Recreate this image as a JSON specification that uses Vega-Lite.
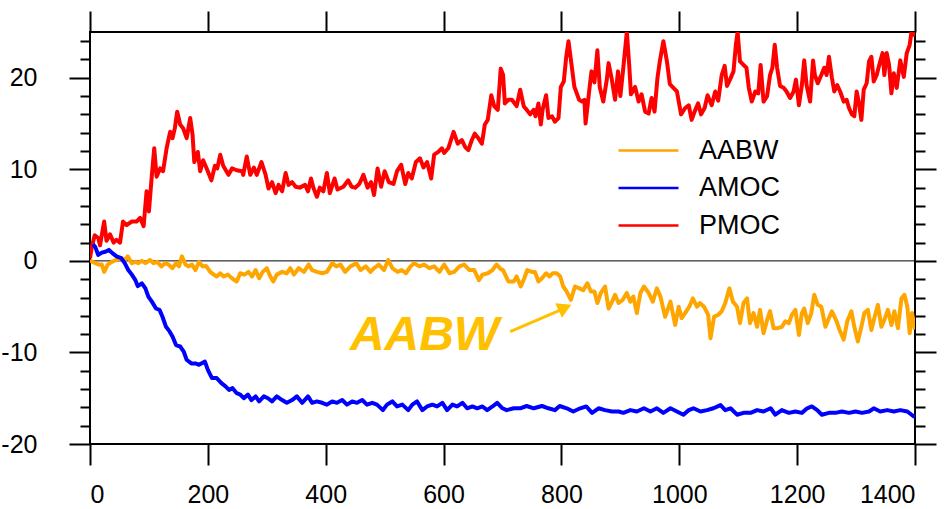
{
  "$schema": "https://vega.github.io/schema/vega-lite/v6.json",
  "autosize": "none",
  "width": 825,
  "height": 412,
  "padding": {"left": 90, "top": 32, "right": 32, "bottom": 65},
  "background": "white",
  "config": {
    "font": "Liberation Sans",
    "view": {"stroke": "black", "strokeWidth": 2},
    "axis": {"grid": false, "domain": false, "tickColor": "black", "tickWidth": 2, "labelColor": "black", "labelFont": "Liberation Sans", "labelFontSize": 25, "title": null}
  },
  "datasets": {
    "moc": [
      {"year":0,"series":"PMOC","value":0.3},{"year":3,"series":"PMOC","value":1.5},{"year":8,"series":"PMOC","value":2.8},{"year":14,"series":"PMOC","value":2.5},{"year":17,"series":"PMOC","value":1.7},{"year":24,"series":"PMOC","value":4.3},{"year":28,"series":"PMOC","value":2.2},{"year":34,"series":"PMOC","value":2.9},{"year":40,"series":"PMOC","value":2.0},{"year":45,"series":"PMOC","value":2.3},{"year":51,"series":"PMOC","value":2.0},{"year":56,"series":"PMOC","value":4.3},{"year":62,"series":"PMOC","value":3.9},{"year":71,"series":"PMOC","value":4.3},{"year":79,"series":"PMOC","value":4.3},{"year":85,"series":"PMOC","value":4.7},{"year":91,"series":"PMOC","value":3.8},{"year":96,"series":"PMOC","value":7.6},{"year":100,"series":"PMOC","value":5.4},{"year":105,"series":"PMOC","value":9.4},{"year":109,"series":"PMOC","value":12.3},{"year":113,"series":"PMOC","value":9.2},{"year":119,"series":"PMOC","value":10.1},{"year":124,"series":"PMOC","value":9.8},{"year":130,"series":"PMOC","value":12.3},{"year":136,"series":"PMOC","value":14.1},{"year":140,"series":"PMOC","value":13.4},{"year":144,"series":"PMOC","value":14.5},{"year":148,"series":"PMOC","value":16.3},{"year":153,"series":"PMOC","value":14.9},{"year":158,"series":"PMOC","value":14.5},{"year":164,"series":"PMOC","value":13.4},{"year":170,"series":"PMOC","value":15.6},{"year":174,"series":"PMOC","value":13.8},{"year":177,"series":"PMOC","value":10.8},{"year":183,"series":"PMOC","value":11.9},{"year":187,"series":"PMOC","value":9.8},{"year":192,"series":"PMOC","value":11.0},{"year":198,"series":"PMOC","value":10.1},{"year":206,"series":"PMOC","value":8.8},{"year":212,"series":"PMOC","value":10.4},{"year":216,"series":"PMOC","value":10.1},{"year":221,"series":"PMOC","value":11.6},{"year":226,"series":"PMOC","value":10.4},{"year":235,"series":"PMOC","value":9.4},{"year":241,"series":"PMOC","value":10.1},{"year":249,"series":"PMOC","value":9.9},{"year":258,"series":"PMOC","value":9.8},{"year":260,"series":"PMOC","value":9.4},{"year":266,"series":"PMOC","value":11.4},{"year":272,"series":"PMOC","value":9.4},{"year":278,"series":"PMOC","value":10.2},{"year":283,"series":"PMOC","value":9.4},{"year":291,"series":"PMOC","value":10.8},{"year":298,"series":"PMOC","value":9.4},{"year":303,"series":"PMOC","value":7.9},{"year":309,"series":"PMOC","value":8.6},{"year":315,"series":"PMOC","value":7.4},{"year":320,"series":"PMOC","value":8.3},{"year":326,"series":"PMOC","value":7.6},{"year":332,"series":"PMOC","value":9.6},{"year":337,"series":"PMOC","value":8.3},{"year":343,"series":"PMOC","value":8.6},{"year":349,"series":"PMOC","value":8.1},{"year":356,"series":"PMOC","value":8.0},{"year":365,"series":"PMOC","value":8.3},{"year":370,"series":"PMOC","value":7.6},{"year":375,"series":"PMOC","value":9.0},{"year":379,"series":"PMOC","value":8.0},{"year":385,"series":"PMOC","value":7.0},{"year":390,"series":"PMOC","value":8.0},{"year":396,"series":"PMOC","value":7.6},{"year":402,"series":"PMOC","value":9.6},{"year":407,"series":"PMOC","value":7.4},{"year":415,"series":"PMOC","value":9.0},{"year":420,"series":"PMOC","value":7.8},{"year":430,"series":"PMOC","value":8.1},{"year":438,"series":"PMOC","value":8.8},{"year":444,"series":"PMOC","value":8.1},{"year":450,"series":"PMOC","value":8.0},{"year":457,"series":"PMOC","value":8.4},{"year":464,"series":"PMOC","value":9.4},{"year":471,"series":"PMOC","value":8.0},{"year":477,"series":"PMOC","value":8.6},{"year":482,"series":"PMOC","value":7.2},{"year":488,"series":"PMOC","value":10.1},{"year":494,"series":"PMOC","value":8.1},{"year":500,"series":"PMOC","value":9.8},{"year":507,"series":"PMOC","value":8.6},{"year":515,"series":"PMOC","value":8.4},{"year":521,"series":"PMOC","value":9.8},{"year":528,"series":"PMOC","value":10.5},{"year":535,"series":"PMOC","value":8.4},{"year":540,"series":"PMOC","value":9.6},{"year":546,"series":"PMOC","value":9.0},{"year":553,"series":"PMOC","value":10.8},{"year":560,"series":"PMOC","value":11.2},{"year":566,"series":"PMOC","value":10.2},{"year":572,"series":"PMOC","value":10.8},{"year":579,"series":"PMOC","value":9.0},{"year":584,"series":"PMOC","value":11.6},{"year":591,"series":"PMOC","value":11.9},{"year":597,"series":"PMOC","value":12.3},{"year":601,"series":"PMOC","value":11.8},{"year":608,"series":"PMOC","value":12.3},{"year":617,"series":"PMOC","value":14.1},{"year":624,"series":"PMOC","value":12.8},{"year":631,"series":"PMOC","value":13.2},{"year":637,"series":"PMOC","value":12.4},{"year":642,"series":"PMOC","value":12.1},{"year":648,"series":"PMOC","value":13.2},{"year":653,"series":"PMOC","value":13.9},{"year":659,"series":"PMOC","value":13.4},{"year":665,"series":"PMOC","value":12.8},{"year":670,"series":"PMOC","value":14.9},{"year":675,"series":"PMOC","value":15.4},{"year":681,"series":"PMOC","value":18.1},{"year":686,"series":"PMOC","value":16.9},{"year":692,"series":"PMOC","value":16.5},{"year":697,"series":"PMOC","value":21.0},{"year":701,"series":"PMOC","value":20.3},{"year":704,"series":"PMOC","value":17.2},{"year":710,"series":"PMOC","value":17.6},{"year":716,"series":"PMOC","value":17.6},{"year":724,"series":"PMOC","value":16.9},{"year":730,"series":"PMOC","value":18.7},{"year":736,"series":"PMOC","value":16.9},{"year":741,"series":"PMOC","value":16.5},{"year":747,"series":"PMOC","value":16.0},{"year":753,"series":"PMOC","value":16.5},{"year":756,"series":"PMOC","value":15.8},{"year":761,"series":"PMOC","value":17.2},{"year":765,"series":"PMOC","value":14.9},{"year":768,"series":"PMOC","value":16.5},{"year":774,"series":"PMOC","value":18.1},{"year":778,"series":"PMOC","value":15.6},{"year":784,"series":"PMOC","value":15.8},{"year":789,"series":"PMOC","value":15.2},{"year":795,"series":"PMOC","value":15.6},{"year":799,"series":"PMOC","value":19.0},{"year":804,"series":"PMOC","value":19.6},{"year":808,"series":"PMOC","value":22.2},{"year":812,"series":"PMOC","value":24.0},{"year":817,"series":"PMOC","value":21.5},{"year":822,"series":"PMOC","value":19.0},{"year":830,"series":"PMOC","value":17.6},{"year":835,"series":"PMOC","value":17.4},{"year":839,"series":"PMOC","value":17.6},{"year":841,"series":"PMOC","value":15.0},{"year":847,"series":"PMOC","value":18.5},{"year":851,"series":"PMOC","value":20.7},{"year":856,"series":"PMOC","value":19.5},{"year":861,"series":"PMOC","value":23.0},{"year":865,"series":"PMOC","value":19.0},{"year":871,"series":"PMOC","value":17.4},{"year":877,"series":"PMOC","value":19.8},{"year":880,"series":"PMOC","value":21.6},{"year":885,"series":"PMOC","value":20.0},{"year":891,"series":"PMOC","value":17.6},{"year":896,"series":"PMOC","value":20.7},{"year":900,"series":"PMOC","value":18.0},{"year":905,"series":"PMOC","value":21.1},{"year":911,"series":"PMOC","value":25.0},{"year":915,"series":"PMOC","value":21.4},{"year":918,"series":"PMOC","value":18.2},{"year":925,"series":"PMOC","value":19.0},{"year":931,"series":"PMOC","value":17.4},{"year":936,"series":"PMOC","value":18.2},{"year":942,"series":"PMOC","value":16.3},{"year":948,"series":"PMOC","value":16.1},{"year":953,"series":"PMOC","value":17.8},{"year":958,"series":"PMOC","value":16.3},{"year":963,"series":"PMOC","value":20.0},{"year":967,"series":"PMOC","value":21.8},{"year":973,"series":"PMOC","value":24.0},{"year":979,"series":"PMOC","value":21.8},{"year":984,"series":"PMOC","value":19.3},{"year":990,"series":"PMOC","value":18.9},{"year":996,"series":"PMOC","value":18.5},{"year":1003,"series":"PMOC","value":16.0},{"year":1010,"series":"PMOC","value":16.7},{"year":1016,"series":"PMOC","value":17.0},{"year":1021,"series":"PMOC","value":15.4},{"year":1026,"series":"PMOC","value":16.3},{"year":1032,"series":"PMOC","value":17.2},{"year":1037,"series":"PMOC","value":16.0},{"year":1043,"series":"PMOC","value":16.7},{"year":1048,"series":"PMOC","value":18.1},{"year":1055,"series":"PMOC","value":17.0},{"year":1061,"series":"PMOC","value":18.5},{"year":1066,"series":"PMOC","value":17.5},{"year":1072,"series":"PMOC","value":20.3},{"year":1077,"series":"PMOC","value":21.3},{"year":1081,"series":"PMOC","value":19.1},{"year":1086,"series":"PMOC","value":19.8},{"year":1092,"series":"PMOC","value":20.7},{"year":1096,"series":"PMOC","value":23.6},{"year":1099,"series":"PMOC","value":25.0},{"year":1103,"series":"PMOC","value":21.8},{"year":1109,"series":"PMOC","value":21.4},{"year":1114,"series":"PMOC","value":21.1},{"year":1118,"series":"PMOC","value":18.9},{"year":1123,"series":"PMOC","value":17.4},{"year":1129,"series":"PMOC","value":18.5},{"year":1134,"series":"PMOC","value":18.3},{"year":1138,"series":"PMOC","value":21.4},{"year":1143,"series":"PMOC","value":17.4},{"year":1149,"series":"PMOC","value":18.0},{"year":1154,"series":"PMOC","value":20.3},{"year":1158,"series":"PMOC","value":21.1},{"year":1162,"series":"PMOC","value":23.6},{"year":1166,"series":"PMOC","value":21.1},{"year":1171,"series":"PMOC","value":19.1},{"year":1177,"series":"PMOC","value":18.9},{"year":1182,"series":"PMOC","value":18.5},{"year":1188,"series":"PMOC","value":17.8},{"year":1194,"series":"PMOC","value":18.5},{"year":1198,"series":"PMOC","value":19.8},{"year":1203,"series":"PMOC","value":17.0},{"year":1208,"series":"PMOC","value":19.2},{"year":1212,"series":"PMOC","value":21.9},{"year":1216,"series":"PMOC","value":19.2},{"year":1222,"series":"PMOC","value":17.4},{"year":1227,"series":"PMOC","value":21.9},{"year":1230,"series":"PMOC","value":20.3},{"year":1235,"series":"PMOC","value":19.4},{"year":1241,"series":"PMOC","value":20.3},{"year":1246,"series":"PMOC","value":21.1},{"year":1250,"series":"PMOC","value":20.3},{"year":1254,"series":"PMOC","value":22.3},{"year":1259,"series":"PMOC","value":20.0},{"year":1263,"series":"PMOC","value":18.5},{"year":1268,"series":"PMOC","value":19.2},{"year":1273,"series":"PMOC","value":18.5},{"year":1279,"series":"PMOC","value":17.4},{"year":1284,"series":"PMOC","value":17.6},{"year":1288,"series":"PMOC","value":16.7},{"year":1293,"series":"PMOC","value":16.0},{"year":1297,"series":"PMOC","value":15.8},{"year":1301,"series":"PMOC","value":18.5},{"year":1305,"series":"PMOC","value":17.2},{"year":1309,"series":"PMOC","value":15.4},{"year":1313,"series":"PMOC","value":18.7},{"year":1318,"series":"PMOC","value":19.4},{"year":1322,"series":"PMOC","value":21.8},{"year":1326,"series":"PMOC","value":22.3},{"year":1330,"series":"PMOC","value":19.6},{"year":1335,"series":"PMOC","value":20.3},{"year":1341,"series":"PMOC","value":21.8},{"year":1345,"series":"PMOC","value":22.7},{"year":1348,"series":"PMOC","value":20.3},{"year":1352,"series":"PMOC","value":22.7},{"year":1356,"series":"PMOC","value":21.4},{"year":1360,"series":"PMOC","value":18.3},{"year":1364,"series":"PMOC","value":20.5},{"year":1369,"series":"PMOC","value":18.9},{"year":1375,"series":"PMOC","value":21.9},{"year":1381,"series":"PMOC","value":20.1},{"year":1386,"series":"PMOC","value":22.7},{"year":1391,"series":"PMOC","value":23.6},{"year":1394,"series":"PMOC","value":25.0},{"year":1397,"series":"PMOC","value":25.4},{"year":1400,"series":"PMOC","value":24.5},

      {"year":0,"series":"AABW","value":0.1},{"year":4,"series":"AABW","value":-0.1},{"year":9,"series":"AABW","value":-0.25},{"year":14,"series":"AABW","value":-0.4},{"year":20,"series":"AABW","value":-0.4},{"year":24,"series":"AABW","value":-1.2},{"year":30,"series":"AABW","value":-0.4},{"year":37,"series":"AABW","value":-0.1},{"year":45,"series":"AABW","value":0.1},{"year":53,"series":"AABW","value":0.3},{"year":59,"series":"AABW","value":0.1},{"year":64,"series":"AABW","value":0.5},{"year":71,"series":"AABW","value":-0.25},{"year":77,"series":"AABW","value":-0.1},{"year":82,"series":"AABW","value":-0.25},{"year":88,"series":"AABW","value":0.0},{"year":94,"series":"AABW","value":-0.25},{"year":102,"series":"AABW","value":0.1},{"year":108,"series":"AABW","value":-0.25},{"year":114,"series":"AABW","value":-0.1},{"year":121,"series":"AABW","value":-0.6},{"year":128,"series":"AABW","value":-0.25},{"year":133,"series":"AABW","value":-0.4},{"year":140,"series":"AABW","value":-0.8},{"year":146,"series":"AABW","value":-0.25},{"year":151,"series":"AABW","value":-0.6},{"year":156,"series":"AABW","value":0.5},{"year":162,"series":"AABW","value":-0.4},{"year":167,"series":"AABW","value":-0.6},{"year":173,"series":"AABW","value":-0.4},{"year":179,"series":"AABW","value":-1.0},{"year":185,"series":"AABW","value":-0.1},{"year":191,"series":"AABW","value":-0.6},{"year":197,"series":"AABW","value":-0.55},{"year":204,"series":"AABW","value":-1.2},{"year":210,"series":"AABW","value":-1.5},{"year":215,"series":"AABW","value":-1.7},{"year":221,"series":"AABW","value":-1.35},{"year":227,"series":"AABW","value":-1.7},{"year":234,"series":"AABW","value":-1.5},{"year":241,"series":"AABW","value":-1.9},{"year":249,"series":"AABW","value":-2.25},{"year":255,"series":"AABW","value":-1.35},{"year":262,"series":"AABW","value":-1.5},{"year":269,"series":"AABW","value":-1.2},{"year":275,"series":"AABW","value":-1.7},{"year":281,"series":"AABW","value":-1.0},{"year":287,"series":"AABW","value":-1.9},{"year":293,"series":"AABW","value":-1.2},{"year":300,"series":"AABW","value":-0.8},{"year":306,"series":"AABW","value":-1.7},{"year":311,"series":"AABW","value":-2.25},{"year":317,"series":"AABW","value":-1.5},{"year":326,"series":"AABW","value":-1.2},{"year":334,"series":"AABW","value":-1.35},{"year":340,"series":"AABW","value":-0.8},{"year":346,"series":"AABW","value":-1.5},{"year":354,"series":"AABW","value":-0.8},{"year":363,"series":"AABW","value":-1.2},{"year":371,"series":"AABW","value":-0.4},{"year":377,"series":"AABW","value":-1.0},{"year":385,"series":"AABW","value":-1.2},{"year":394,"series":"AABW","value":-1.35},{"year":402,"series":"AABW","value":-1.2},{"year":411,"series":"AABW","value":-0.25},{"year":418,"series":"AABW","value":-0.6},{"year":425,"series":"AABW","value":-0.4},{"year":433,"series":"AABW","value":-1.2},{"year":442,"series":"AABW","value":-0.6},{"year":452,"series":"AABW","value":-0.25},{"year":459,"series":"AABW","value":-1.0},{"year":468,"series":"AABW","value":-0.6},{"year":476,"series":"AABW","value":-1.2},{"year":482,"series":"AABW","value":-0.8},{"year":490,"series":"AABW","value":-0.4},{"year":499,"series":"AABW","value":-1.0},{"year":506,"series":"AABW","value":0.1},{"year":513,"series":"AABW","value":-0.8},{"year":522,"series":"AABW","value":-1.2},{"year":529,"series":"AABW","value":-1.0},{"year":536,"series":"AABW","value":-1.35},{"year":544,"series":"AABW","value":-0.6},{"year":550,"series":"AABW","value":-0.25},{"year":559,"series":"AABW","value":-0.6},{"year":567,"series":"AABW","value":-0.4},{"year":576,"series":"AABW","value":-0.8},{"year":584,"series":"AABW","value":-0.6},{"year":593,"series":"AABW","value":-1.2},{"year":601,"series":"AABW","value":-0.4},{"year":610,"series":"AABW","value":-1.35},{"year":618,"series":"AABW","value":-1.2},{"year":627,"series":"AABW","value":-0.6},{"year":635,"series":"AABW","value":-0.4},{"year":644,"series":"AABW","value":-1.0},{"year":652,"series":"AABW","value":-1.0},{"year":660,"series":"AABW","value":-2.1},{"year":666,"series":"AABW","value":-1.5},{"year":675,"series":"AABW","value":-1.35},{"year":683,"series":"AABW","value":-1.0},{"year":690,"series":"AABW","value":-0.4},{"year":697,"series":"AABW","value":-0.9},{"year":701,"series":"AABW","value":-1.0},{"year":710,"series":"AABW","value":-2.25},{"year":719,"series":"AABW","value":-2.25},{"year":724,"series":"AABW","value":-1.7},{"year":731,"series":"AABW","value":-2.8},{"year":737,"series":"AABW","value":-1.9},{"year":742,"series":"AABW","value":-1.0},{"year":750,"series":"AABW","value":-1.2},{"year":755,"series":"AABW","value":-1.2},{"year":761,"series":"AABW","value":-2.25},{"year":767,"series":"AABW","value":-1.9},{"year":774,"series":"AABW","value":-1.35},{"year":780,"series":"AABW","value":-1.7},{"year":785,"series":"AABW","value":-1.35},{"year":792,"series":"AABW","value":-1.35},{"year":798,"series":"AABW","value":-1.7},{"year":803,"series":"AABW","value":-2.8},{"year":809,"series":"AABW","value":-3.35},{"year":816,"series":"AABW","value":-4.25},{"year":823,"series":"AABW","value":-2.8},{"year":831,"series":"AABW","value":-3.0},{"year":837,"series":"AABW","value":-3.2},{"year":844,"series":"AABW","value":-2.45},{"year":850,"series":"AABW","value":-3.35},{"year":856,"series":"AABW","value":-3.35},{"year":861,"series":"AABW","value":-4.6},{"year":867,"series":"AABW","value":-3.5},{"year":874,"series":"AABW","value":-2.8},{"year":880,"series":"AABW","value":-5.2},{"year":886,"series":"AABW","value":-4.45},{"year":891,"series":"AABW","value":-3.7},{"year":897,"series":"AABW","value":-4.6},{"year":904,"series":"AABW","value":-4.25},{"year":911,"series":"AABW","value":-3.5},{"year":917,"series":"AABW","value":-4.45},{"year":922,"series":"AABW","value":-3.9},{"year":928,"series":"AABW","value":-5.7},{"year":934,"series":"AABW","value":-3.5},{"year":940,"series":"AABW","value":-2.8},{"year":948,"series":"AABW","value":-3.5},{"year":955,"series":"AABW","value":-4.45},{"year":962,"series":"AABW","value":-3.0},{"year":968,"series":"AABW","value":-3.9},{"year":976,"series":"AABW","value":-6.1},{"year":985,"series":"AABW","value":-4.45},{"year":993,"series":"AABW","value":-7.0},{"year":999,"series":"AABW","value":-5.0},{"year":1004,"series":"AABW","value":-6.25},{"year":1012,"series":"AABW","value":-5.5},{"year":1017,"series":"AABW","value":-5.0},{"year":1023,"series":"AABW","value":-4.1},{"year":1030,"series":"AABW","value":-5.0},{"year":1035,"series":"AABW","value":-4.6},{"year":1042,"series":"AABW","value":-5.0},{"year":1049,"series":"AABW","value":-5.9},{"year":1053,"series":"AABW","value":-8.45},{"year":1059,"series":"AABW","value":-6.1},{"year":1066,"series":"AABW","value":-5.9},{"year":1072,"series":"AABW","value":-5.5},{"year":1078,"series":"AABW","value":-4.6},{"year":1085,"series":"AABW","value":-3.0},{"year":1091,"series":"AABW","value":-4.45},{"year":1098,"series":"AABW","value":-5.0},{"year":1103,"series":"AABW","value":-6.8},{"year":1109,"series":"AABW","value":-4.6},{"year":1115,"series":"AABW","value":-4.1},{"year":1120,"series":"AABW","value":-6.8},{"year":1126,"series":"AABW","value":-5.7},{"year":1132,"series":"AABW","value":-7.2},{"year":1137,"series":"AABW","value":-5.35},{"year":1143,"series":"AABW","value":-7.9},{"year":1149,"series":"AABW","value":-6.45},{"year":1154,"series":"AABW","value":-5.5},{"year":1160,"series":"AABW","value":-7.35},{"year":1167,"series":"AABW","value":-7.35},{"year":1174,"series":"AABW","value":-7.2},{"year":1180,"series":"AABW","value":-6.6},{"year":1186,"series":"AABW","value":-6.8},{"year":1191,"series":"AABW","value":-5.9},{"year":1197,"series":"AABW","value":-5.35},{"year":1203,"series":"AABW","value":-8.1},{"year":1208,"series":"AABW","value":-5.7},{"year":1212,"series":"AABW","value":-5.2},{"year":1218,"series":"AABW","value":-6.8},{"year":1224,"series":"AABW","value":-5.7},{"year":1229,"series":"AABW","value":-3.7},{"year":1235,"series":"AABW","value":-4.8},{"year":1241,"series":"AABW","value":-5.0},{"year":1248,"series":"AABW","value":-7.2},{"year":1254,"series":"AABW","value":-6.25},{"year":1259,"series":"AABW","value":-5.5},{"year":1267,"series":"AABW","value":-6.6},{"year":1272,"series":"AABW","value":-7.55},{"year":1279,"series":"AABW","value":-8.6},{"year":1285,"series":"AABW","value":-6.6},{"year":1292,"series":"AABW","value":-5.5},{"year":1297,"series":"AABW","value":-7.2},{"year":1303,"series":"AABW","value":-8.8},{"year":1309,"series":"AABW","value":-7.2},{"year":1314,"series":"AABW","value":-5.7},{"year":1320,"series":"AABW","value":-5.35},{"year":1326,"series":"AABW","value":-7.55},{"year":1331,"series":"AABW","value":-6.25},{"year":1337,"series":"AABW","value":-4.8},{"year":1343,"series":"AABW","value":-7.2},{"year":1348,"series":"AABW","value":-6.45},{"year":1354,"series":"AABW","value":-5.35},{"year":1360,"series":"AABW","value":-7.0},{"year":1365,"series":"AABW","value":-5.5},{"year":1371,"series":"AABW","value":-7.35},{"year":1377,"series":"AABW","value":-4.1},{"year":1382,"series":"AABW","value":-3.7},{"year":1387,"series":"AABW","value":-5.0},{"year":1391,"series":"AABW","value":-7.9},{"year":1395,"series":"AABW","value":-5.7},{"year":1400,"series":"AABW","value":-7.5},

      {"year":5,"series":"AMOC","value":1.8},{"year":9,"series":"AMOC","value":1.5},{"year":14,"series":"AMOC","value":0.65},{"year":20,"series":"AMOC","value":0.9},{"year":26,"series":"AMOC","value":1.0},{"year":32,"series":"AMOC","value":1.2},{"year":38,"series":"AMOC","value":0.85},{"year":45,"series":"AMOC","value":0.5},{"year":53,"series":"AMOC","value":0.3},{"year":59,"series":"AMOC","value":-0.25},{"year":65,"series":"AMOC","value":-1.0},{"year":71,"series":"AMOC","value":-1.5},{"year":77,"series":"AMOC","value":-2.1},{"year":81,"series":"AMOC","value":-2.75},{"year":88,"series":"AMOC","value":-2.45},{"year":94,"series":"AMOC","value":-3.0},{"year":99,"series":"AMOC","value":-3.9},{"year":105,"series":"AMOC","value":-4.45},{"year":112,"series":"AMOC","value":-5.2},{"year":118,"series":"AMOC","value":-5.35},{"year":123,"series":"AMOC","value":-6.1},{"year":129,"series":"AMOC","value":-7.2},{"year":135,"series":"AMOC","value":-7.7},{"year":140,"series":"AMOC","value":-8.25},{"year":146,"series":"AMOC","value":-9.2},{"year":153,"series":"AMOC","value":-9.35},{"year":159,"series":"AMOC","value":-9.9},{"year":164,"series":"AMOC","value":-10.8},{"year":172,"series":"AMOC","value":-11.2},{"year":179,"series":"AMOC","value":-11.2},{"year":185,"series":"AMOC","value":-11.35},{"year":195,"series":"AMOC","value":-11.0},{"year":200,"series":"AMOC","value":-11.9},{"year":207,"series":"AMOC","value":-12.8},{"year":215,"series":"AMOC","value":-12.8},{"year":223,"series":"AMOC","value":-13.35},{"year":230,"series":"AMOC","value":-13.7},{"year":236,"series":"AMOC","value":-14.1},{"year":242,"series":"AMOC","value":-13.9},{"year":249,"series":"AMOC","value":-14.45},{"year":255,"series":"AMOC","value":-14.6},{"year":261,"series":"AMOC","value":-15.0},{"year":268,"series":"AMOC","value":-14.6},{"year":274,"series":"AMOC","value":-15.2},{"year":281,"series":"AMOC","value":-14.8},{"year":287,"series":"AMOC","value":-15.35},{"year":295,"series":"AMOC","value":-14.8},{"year":302,"series":"AMOC","value":-15.0},{"year":309,"series":"AMOC","value":-15.35},{"year":317,"series":"AMOC","value":-14.8},{"year":326,"series":"AMOC","value":-15.2},{"year":334,"series":"AMOC","value":-15.5},{"year":343,"series":"AMOC","value":-15.2},{"year":351,"series":"AMOC","value":-14.8},{"year":360,"series":"AMOC","value":-15.5},{"year":370,"series":"AMOC","value":-14.8},{"year":377,"series":"AMOC","value":-15.5},{"year":385,"series":"AMOC","value":-15.35},{"year":394,"series":"AMOC","value":-15.5},{"year":402,"series":"AMOC","value":-15.7},{"year":411,"series":"AMOC","value":-15.35},{"year":419,"series":"AMOC","value":-15.5},{"year":428,"series":"AMOC","value":-15.2},{"year":436,"series":"AMOC","value":-15.7},{"year":445,"series":"AMOC","value":-15.35},{"year":453,"series":"AMOC","value":-15.5},{"year":462,"series":"AMOC","value":-15.2},{"year":470,"series":"AMOC","value":-15.7},{"year":479,"series":"AMOC","value":-15.5},{"year":487,"series":"AMOC","value":-15.7},{"year":497,"series":"AMOC","value":-16.3},{"year":504,"series":"AMOC","value":-15.7},{"year":513,"series":"AMOC","value":-15.35},{"year":521,"series":"AMOC","value":-15.9},{"year":530,"series":"AMOC","value":-15.7},{"year":540,"series":"AMOC","value":-16.3},{"year":547,"series":"AMOC","value":-15.7},{"year":555,"series":"AMOC","value":-15.35},{"year":564,"series":"AMOC","value":-16.3},{"year":572,"series":"AMOC","value":-15.9},{"year":581,"series":"AMOC","value":-15.7},{"year":589,"series":"AMOC","value":-15.9},{"year":598,"series":"AMOC","value":-15.5},{"year":606,"series":"AMOC","value":-16.3},{"year":615,"series":"AMOC","value":-15.7},{"year":623,"series":"AMOC","value":-15.9},{"year":632,"series":"AMOC","value":-15.5},{"year":640,"series":"AMOC","value":-16.1},{"year":649,"series":"AMOC","value":-15.9},{"year":657,"series":"AMOC","value":-16.1},{"year":666,"series":"AMOC","value":-15.9},{"year":674,"series":"AMOC","value":-16.3},{"year":683,"series":"AMOC","value":-15.9},{"year":691,"series":"AMOC","value":-15.5},{"year":700,"series":"AMOC","value":-16.1},{"year":707,"series":"AMOC","value":-16.3},{"year":719,"series":"AMOC","value":-16.1},{"year":730,"series":"AMOC","value":-16.1},{"year":741,"series":"AMOC","value":-15.85},{"year":753,"series":"AMOC","value":-16.1},{"year":767,"series":"AMOC","value":-15.85},{"year":778,"series":"AMOC","value":-16.1},{"year":789,"series":"AMOC","value":-16.3},{"year":797,"series":"AMOC","value":-15.85},{"year":809,"series":"AMOC","value":-16.1},{"year":820,"series":"AMOC","value":-16.45},{"year":832,"series":"AMOC","value":-16.1},{"year":842,"series":"AMOC","value":-15.9},{"year":852,"series":"AMOC","value":-16.6},{"year":863,"series":"AMOC","value":-16.1},{"year":874,"series":"AMOC","value":-16.3},{"year":886,"series":"AMOC","value":-16.45},{"year":897,"series":"AMOC","value":-16.45},{"year":905,"series":"AMOC","value":-16.6},{"year":917,"series":"AMOC","value":-16.3},{"year":928,"series":"AMOC","value":-16.45},{"year":940,"series":"AMOC","value":-16.1},{"year":951,"series":"AMOC","value":-16.45},{"year":962,"series":"AMOC","value":-16.1},{"year":973,"series":"AMOC","value":-16.6},{"year":985,"series":"AMOC","value":-16.1},{"year":996,"series":"AMOC","value":-16.45},{"year":1007,"series":"AMOC","value":-16.8},{"year":1016,"series":"AMOC","value":-16.3},{"year":1024,"series":"AMOC","value":-16.1},{"year":1036,"series":"AMOC","value":-16.45},{"year":1047,"series":"AMOC","value":-16.3},{"year":1058,"series":"AMOC","value":-16.1},{"year":1070,"series":"AMOC","value":-15.75},{"year":1078,"series":"AMOC","value":-16.3},{"year":1087,"series":"AMOC","value":-16.1},{"year":1098,"series":"AMOC","value":-16.8},{"year":1109,"series":"AMOC","value":-16.6},{"year":1121,"series":"AMOC","value":-16.6},{"year":1132,"series":"AMOC","value":-16.3},{"year":1143,"series":"AMOC","value":-16.45},{"year":1155,"series":"AMOC","value":-16.1},{"year":1163,"series":"AMOC","value":-16.8},{"year":1174,"series":"AMOC","value":-16.3},{"year":1186,"series":"AMOC","value":-16.6},{"year":1197,"series":"AMOC","value":-16.45},{"year":1208,"series":"AMOC","value":-16.6},{"year":1217,"series":"AMOC","value":-16.1},{"year":1225,"series":"AMOC","value":-15.9},{"year":1234,"series":"AMOC","value":-16.3},{"year":1242,"series":"AMOC","value":-16.8},{"year":1254,"series":"AMOC","value":-16.6},{"year":1265,"series":"AMOC","value":-16.6},{"year":1276,"series":"AMOC","value":-16.45},{"year":1288,"series":"AMOC","value":-16.6},{"year":1299,"series":"AMOC","value":-16.45},{"year":1310,"series":"AMOC","value":-16.6},{"year":1322,"series":"AMOC","value":-16.45},{"year":1330,"series":"AMOC","value":-16.1},{"year":1341,"series":"AMOC","value":-16.45},{"year":1353,"series":"AMOC","value":-16.3},{"year":1364,"series":"AMOC","value":-16.45},{"year":1375,"series":"AMOC","value":-16.3},{"year":1387,"series":"AMOC","value":-16.45},{"year":1398,"series":"AMOC","value":-17.0},{"year":1400,"series":"AMOC","value":-16.9}
    ],
    "arrow": [{"year": 713, "value": -7.72, "year2": 803, "value2": -5.25}],
    "head": [{"year": 806, "value": -5.1}],
    "note": [{"year": 441, "value": -9.72, "label": "AABW"}]
  },
  "resolve": {"axis": {"x": "independent", "y": "independent"}},
  "layer": [
    {
      "description": "zero reference line, carries the right-hand axis",
      "data": {"values": [{"value": 0}]},
      "mark": {"type": "rule", "color": "black", "strokeWidth": 1},
      "encoding": {
        "y": {
          "field": "value", "type": "quantitative",
          "scale": {"domain": [-20, 25], "nice": false, "zero": false},
          "axis": {
            "orient": "right",
            "values": [-20, -18, -16, -14, -12, -10, -8, -6, -4, -2, 0, 2, 4, 6, 8, 10, 12, 14, 16, 18, 20, 22, 24],
            "tickSize": {"condition": {"test": "datum.value % 10 === 0", "value": 21}, "value": 10},
            "labels": false
          }
        }
      }
    },
    {
      "data": {"name": "moc"},
      "mark": {"type": "line", "strokeWidth": 4, "clip": true, "strokeJoin": "round"},
      "encoding": {
        "x": {
          "field": "year", "type": "quantitative",
          "scale": {"domain": [0, 1400], "nice": false, "zero": false},
          "axis": {"orient": "bottom", "values": [0, 200, 400, 600, 800, 1000, 1200, 1400], "tickSize": 21, "labelPadding": 17, "format": "d"}
        },
        "y": {
          "field": "value", "type": "quantitative",
          "scale": {"domain": [-20, 25], "nice": false, "zero": false},
          "axis": {
            "orient": "left",
            "values": [-20, -18, -16, -14, -12, -10, -8, -6, -4, -2, 0, 2, 4, 6, 8, 10, 12, 14, 16, 18, 20, 22, 24],
            "tickSize": {"condition": {"test": "datum.value % 10 === 0", "value": 21}, "value": 10},
            "labelExpr": "datum.value % 10 === 0 ? (datum.value < 0 ? '-' : '') + abs(datum.value) : ''",
            "labelPadding": 32
          }
        },
        "color": {
          "field": "series", "type": "nominal",
          "scale": {"domain": ["AABW", "AMOC", "PMOC"], "range": ["#FFA500", "#0000FF", "#FF0000"]},
          "legend": {
            "orient": "none", "legendX": 545, "legendY": 105, "title": null,
            "symbolType": "M-3,0H3", "symbolSize": 400, "symbolStrokeWidth": 2.5, "symbolFillColor": "transparent",
            "labelFont": "Liberation Sans", "labelFontSize": 27, "labelColor": "black",
            "labelOffset": 37, "rowPadding": 9.5
          }
        },
        "order": {"field": "year", "type": "quantitative"}
      }
    },
    {
      "description": "annotation arrow shaft, carries the top axis",
      "data": {"name": "arrow"},
      "mark": {"type": "rule", "color": "#FFC000", "strokeWidth": 3},
      "encoding": {
        "x": {
          "field": "year", "type": "quantitative",
          "scale": {"domain": [0, 1400], "nice": false, "zero": false},
          "axis": {"orient": "top", "values": [0, 200, 400, 600, 800, 1000, 1200, 1400], "tickSize": 21, "labels": false}
        },
        "x2": {"field": "year2"},
        "y": {"field": "value", "type": "quantitative", "scale": {"domain": [-20, 25], "nice": false, "zero": false}, "axis": null},
        "y2": {"field": "value2"}
      }
    },
    {
      "data": {"name": "head"},
      "mark": {"type": "point", "shape": "triangle-right", "filled": true, "color": "#FFC000", "opacity": 1, "size": 260, "angle": -24.5},
      "encoding": {
        "x": {"field": "year", "type": "quantitative", "scale": {"domain": [0, 1400], "nice": false, "zero": false}, "axis": null},
        "y": {"field": "value", "type": "quantitative", "scale": {"domain": [-20, 25], "nice": false, "zero": false}, "axis": null}
      }
    },
    {
      "data": {"name": "note"},
      "mark": {"type": "text", "align": "left", "baseline": "alphabetic", "font": "Liberation Sans", "fontSize": 48, "fontWeight": "bold", "fontStyle": "italic", "color": "#FFC000"},
      "encoding": {
        "x": {"field": "year", "type": "quantitative", "scale": {"domain": [0, 1400], "nice": false, "zero": false}, "axis": null},
        "y": {"field": "value", "type": "quantitative", "scale": {"domain": [-20, 25], "nice": false, "zero": false}, "axis": null},
        "text": {"field": "label"}
      }
    }
  ]
}
